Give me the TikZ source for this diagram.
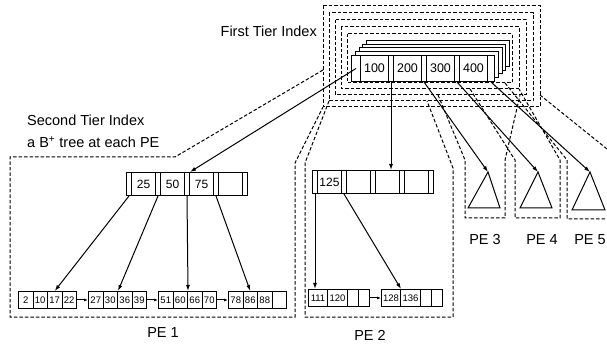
\documentclass[tikz,border=0pt]{standalone}
\usepackage{fontspec}
\setmainfont{Liberation Sans}
\usetikzlibrary{arrows.meta, calc, positioning}

\tikzset{
  keycell/.style={draw, fill=white, line width=1pt, minimum width=24pt, minimum height=23pt,
    inner sep=0pt, anchor=north west, font=\fontsize{12}{12}\selectfont},
  ptrcell/.style={draw, fill=white, line width=1pt, minimum width=5pt, minimum height=23pt,
    inner sep=0pt, anchor=north west},
  leafcell/.style={draw, line width=1pt, minimum height=17pt, inner sep=0pt,
    anchor=north west, font=\fontsize{9.5}{10}\selectfont},
  topcell/.style={draw, fill=white, line width=1pt, minimum height=26pt, inner sep=0pt,
    anchor=north west, font=\fontsize{12.5}{13}\selectfont},
  pebox/.style={dash pattern=on 3.5pt off 2pt, line width=1pt},
  ptr/.style={-{Latex[length=6pt,width=4pt]}, line width=1pt},
  lbl/.style={font=\fontsize{14.5}{16}\selectfont, inner sep=0pt}
}

\begin{document}
\begin{tikzpicture}[x=1pt, y=-1pt]
  \useasboundingbox (0,0) rectangle (607,344);

  % First tier: one copy of the index per PE (nested dashed frames)
  \foreach \r in {0,...,4}
    \draw[pebox] ({323+6*\r},{6+7*\r}) rectangle ({540-7*\r},{107-6*\r});

  % stacked copies behind the front record
  \foreach \s in {4,3,2,1}
    \node[draw, fill=white, line width=1pt, minimum width=143pt, minimum height=26pt,
      inner sep=0pt, anchor=north west] (ft-copy\s) at ({351+3.75*\s},{55-3.75*\s}) {};

  % front record 100 200 300 400
  \node[topcell, minimum width=9pt] (ft-p0) at (351,55) {};
  \foreach \i in {1,2,3}
    \node[topcell, minimum width=5pt] (ft-p\i) at ({355+33*\i},55) {};
  \node[topcell, minimum width=7pt] (ft-p4) at (487,55) {};
  \foreach \i/\t in {1/100,2/200,3/300,4/400}
    \node[topcell, minimum width=28pt] (ft-k\i) at ({327+33*\i},55) {\t};

  % PE boundaries
  \draw[pebox] (323,70) -- (175,157) -- (10,157) -- (10,317) -- (295,317) -- (295,163) -- (323,107);
  \draw[pebox] (329,101) -- (305,163) -- (305,317) -- (453,317) -- (453,168) -- (427,101);
  \draw[pebox] (438,95) -- (465,160) -- (465,218) -- (505,218) -- (505,160) -- (520,95);
  \draw[pebox] (470,89) -- (515,160) -- (515,218) -- (560,218) -- (560,160) -- (519,89);
  \draw[pebox] (505,83) -- (567,160) -- (567,219) -- (612,219);
  \draw[pebox] (540,95) -- (612,153);

  % PE 1: B+ tree
  \foreach \i in {0,...,4}
    \node[ptrcell] (na-p\i) at ({126+29*\i},172) {};
  \foreach \i/\t in {1/25,2/50,3/75,4/{}}
    \node[keycell] (na-k\i) at ({102+29*\i},172) {\t};
  \foreach \l/\lx/\ka/\kb/\kc/\kd in {1/18/2/10/17/22, 2/88/27/30/36/39, 3/158/51/60/66/70, 4/228/78/86/88/{}}
    \foreach \c/\t in {1/\ka,2/\kb,3/\kc,4/\kd}
      \node[leafcell, minimum width=14.5pt] (la\l-\c) at ({\lx+14.5*(\c-1)},291) {\t};

  % PE 2: B+ tree
  \foreach \i in {0,...,4}
    \node[ptrcell] (nb-p\i) at ({312+29*\i},170) {};
  \foreach \i/\t in {1/125,2/{},3/{},4/{}}
    \node[keycell] (nb-k\i) at ({288+29*\i},170) {\t};
  \foreach \l/\lx/\ka/\kb in {1/308/111/120, 2/381/128/136}
    \foreach \c/\cx/\cw/\t in {1/0/19/\ka, 2/19/20/\kb, 3/39/11/{}, 4/50/11/{}}
      \node[leafcell, minimum width=\cw pt] (lb\l-\c) at ({\lx+\cx},289) {\t};

  % PE 3-5: trees as triangles
  \coordinate (t3) at (488,172);
  \coordinate (t4) at (538,172);
  \coordinate (t5) at (590,172);
  \draw[line width=1pt] (t3) -- (468,208) -- (500,208) -- cycle;
  \draw[line width=1pt] (t4) -- (520,208) -- (552,208) -- cycle;
  \draw[line width=1pt] (t5) -- (572,210) -- (605,210) -- cycle;

  % first tier pointers
  \draw[ptr] (ft-p0.center) -- (na-p2.north east);
  \draw[ptr] (ft-p1.south) -- (ft-p1.south |- nb-k3.north);
  \draw[ptr] (ft-p2.south) -- (t3);
  \draw[ptr] (ft-p3.south) -- (t4);
  \draw[ptr] (ft-p4.south) -- (t5);

  % second tier pointers
  \draw[ptr] (na-p0.south) -- (la1-3.north);
  \draw[ptr] (na-p1.south) -- (la2-2.north east);
  \draw[ptr] (na-p2.south) -- (la3-2.north east);
  \draw[ptr] (na-p3.south) -- (la4-2.north);
  \draw[ptr] (nb-p0.south) -- (nb-p0.south |- lb1-1.north);
  \draw[ptr] (nb-p1.south) -- (lb2-1.north east);

  % leaf chains
  \foreach \a/\b in {1/2,2/3,3/4}
    \draw[-{Latex[length=4pt,width=3pt]}, line width=1pt] (la\a-4.east) -- (la\b-1.west);
  \draw[-{Latex[length=4pt,width=3pt]}, line width=1pt] (lb1-4.east) -- (lb2-1.west);

  % labels
  \node[lbl, anchor=east] (first) at (317,31) {First Tier Index};
  \node[lbl, anchor=west] (second) at (27,120) {Second Tier Index};
  \node[lbl, anchor=west] (bplus) at (27,142) {a B\textsuperscript{+} tree at each PE};
  \node[lbl] (pe1) at (163,333) {PE 1};
  \node[lbl] (pe2) at (370,335) {PE 2};
  \node[lbl] (pe3) at (485,240) {PE 3};
  \node[lbl] (pe4) at (542,240) {PE 4};
  \node[lbl] (pe5) at (590,240) {PE 5};
\end{tikzpicture}
\end{document}
